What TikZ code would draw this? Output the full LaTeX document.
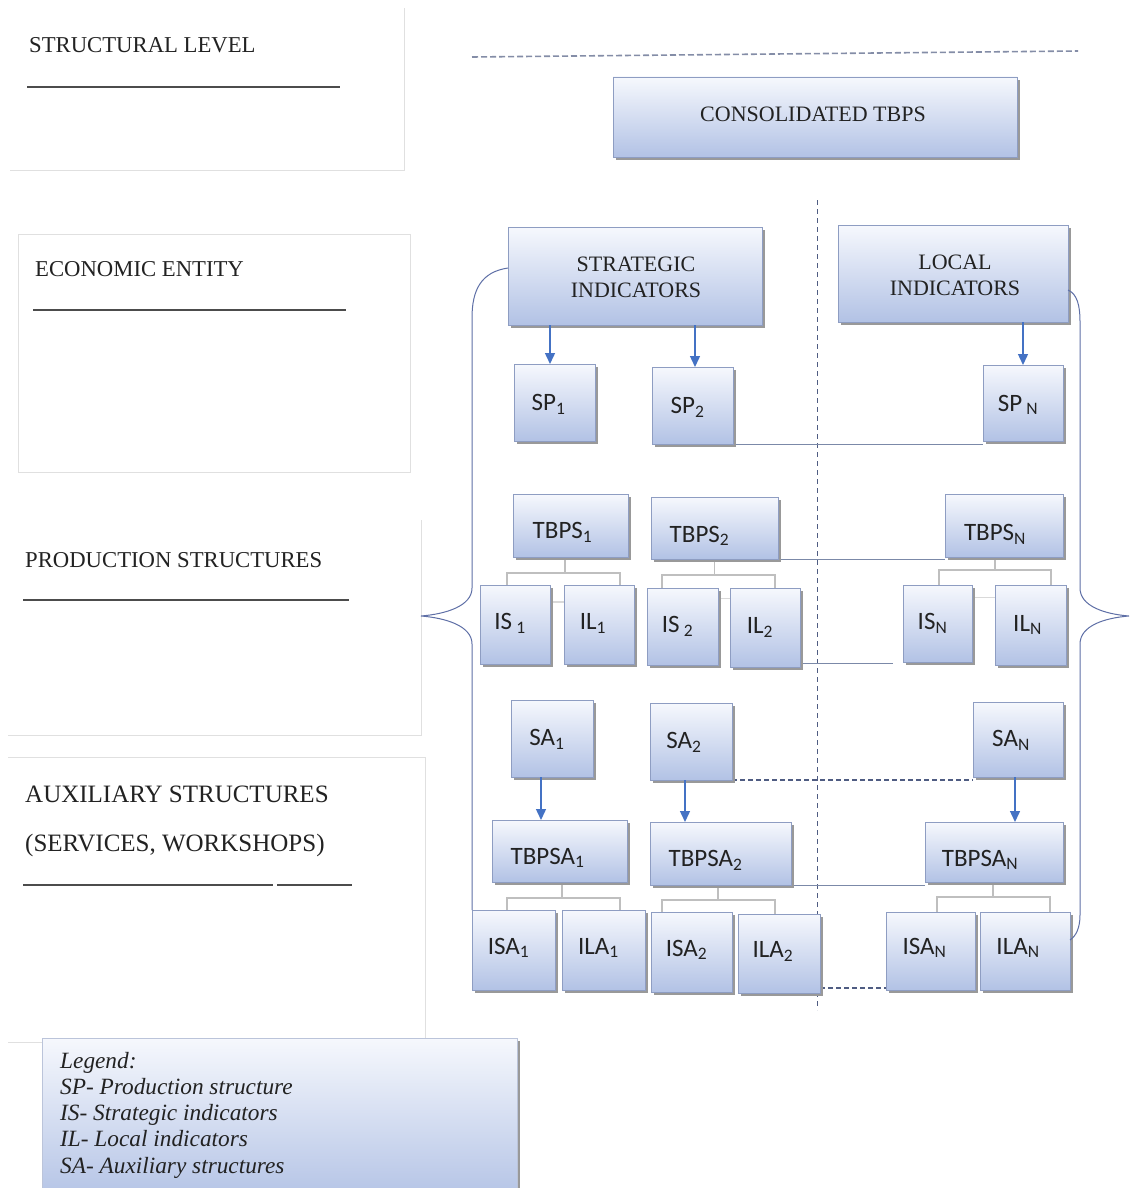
\documentclass[tikz,border=0pt]{standalone}
\usepackage{fontspec}
\setmainfont{Liberation Serif}
\newfontfamily\boxfont{Carlito}
\usetikzlibrary{arrows.meta,shadows}
\pgfdeclarelayer{bg}
\pgfsetlayers{bg,main}
\definecolor{bxtop}{HTML}{F6F8FD}
\definecolor{bxbot}{HTML}{B2C2E5}
\definecolor{bxdraw}{HTML}{8E9DC2}
\definecolor{arrblue}{HTML}{4472C4}
\definecolor{linec}{HTML}{7B89A8}
\definecolor{dlinec}{HTML}{4F5C82}
\definecolor{panel}{HTML}{E0E0E0}
\definecolor{bracec}{HTML}{5E6FA6}
\definecolor{txt}{HTML}{222222}
\tikzset{
 box/.style={draw=bxdraw, line width=0.8pt, top color=bxtop, bottom color=bxbot,
   inner sep=0pt, outer sep=0pt,
   drop shadow={shadow xshift=3pt, shadow yshift=-3pt, fill=black!40, opacity=1}},
 lblserif/.style={font=\fontsize{22}{26}\selectfont, align=center, inner sep=0pt, text=txt},
 lblsans/.style={font=\boxfont\fontsize{25}{28}\selectfont, inner sep=0pt, text=txt},
 lefttext/.style={font=\fontsize{22.7}{26}\selectfont, inner sep=0pt, anchor=base west, text=txt},
 auxtext/.style={font=\fontsize{25}{28}\selectfont, inner sep=0pt, anchor=base west, text=txt},
 legtext/.style={font=\itshape\fontsize{23.3}{26}\selectfont, inner sep=0pt, anchor=base west, text=txt},
 arr/.style={draw=arrblue, line width=1.4pt, -{Triangle[length=11pt,width=10pt]}},
 link/.style={draw=linec, line width=1pt},
 dlink/.style={draw=dlinec, line width=1.1pt, dash pattern=on 5pt off 3pt},
 tree/.style={draw=gray!50, line width=1.5pt},
 panelline/.style={draw=panel, line width=0.9pt},
 rulerline/.style={draw=black!70, line width=1.4pt},
 brace/.style={draw=bracec, line width=1pt},
 vdash/.style={draw=dlinec, line width=1pt, dash pattern=on 5pt off 4pt},
}
\newcommand\bx[9]{%
 \node[box, minimum width={(#4-(#2))*1pt}, minimum height={(#5-(#3))*1pt}] (#1) at ({(#2+#4)/2},{(#3+#5)/2}) {};
 \node[#8] (#1t) at ([xshift={(#6)*1pt}, yshift={-(#7)*1pt}]#1.center) {#9};
}
\newcommand\sub[1]{\textsubscript{#1}}
\begin{document}
\begin{tikzpicture}[x=1pt,y=-1pt]
\useasboundingbox (0,0) rectangle (1130,1188);
\begin{pgfonlayer}{bg}
\fill[white] (0,0) rectangle (1130,1188);
\end{pgfonlayer}

% ---------- left panel ----------
\draw[panelline] (10,170) -- (404,170) -- (404,8);
\draw[panelline] (18,234) rectangle (410,472);
\draw[panelline] (8,735) -- (421,735) -- (421,520);
\draw[panelline] (8,757) -- (425,757) -- (425,1040);
\draw[panelline] (8,1042) -- (44,1042);

\node[lefttext] (tsl) at (29,52.5) {STRUCTURAL LEVEL};
\draw[rulerline] (27,87) -- (340,87);
\node[lefttext] (tee) at (35,276.5) {ECONOMIC ENTITY};
\draw[rulerline] (33,310) -- (346,310);
\node[lefttext] (tps) at (25,567.5) {PRODUCTION STRUCTURES};
\draw[rulerline] (23,600) -- (349,600);
\node[auxtext] (tas) at (25,802) {AUXILIARY STRUCTURES};
\node[auxtext] (tsw) at (25,851) {(SERVICES, WORKSHOPS)};
\draw[rulerline] (23,885) -- (273,885);
\draw[rulerline] (277,885) -- (352,885);

% ---------- legend ----------
\node[box, draw=bxdraw!60, minimum width=475pt, minimum height=165pt, anchor=north west] (legend) at (42,1038) {};
\node[legtext] (lg0) at (60,1068) {Legend:};
\node[legtext] (lg1) at (60,1094) {SP- Production structure};
\node[legtext] (lg2) at (60,1120) {IS- Strategic indicators};
\node[legtext] (lg3) at (60,1146) {IL- Local indicators};
\node[legtext] (lg4) at (60,1173) {SA- Auxiliary structures};

% ---------- right diagram ----------
\bx{cons}{613}{77}{1017}{157}{-2}{-3}{lblserif}{CONSOLIDATED TBPS}
\bx{strat}{508}{227}{762}{325}{1}{1}{lblserif}{STRATEGIC\\INDICATORS}
\bx{local}{838}{225}{1068}{322}{2}{2}{lblserif}{LOCAL\\INDICATORS}

\bx{sp1}{514}{364}{595}{441}{-6}{2}{lblsans}{SP\sub{1}}
\bx{sp2}{652}{367}{733}{444}{-5}{2}{lblsans}{SP\sub{2}}
\bx{spn}{983}{365}{1063}{441}{-5}{2}{lblsans}{SP\,\sub{N}}

\bx{tbps1}{513}{494}{628}{557}{-8}{7}{lblsans}{TBPS\sub{1}}
\bx{tbps2}{651}{497}{778}{559}{-15}{8}{lblsans}{TBPS\sub{2}}
\bx{tbpsn}{945}{494}{1063}{557}{-9}{9}{lblsans}{TBPS\sub{N}}

\bx{is1}{480}{585}{550}{664}{-5}{-1}{lblsans}{IS\,\sub{1}}
\bx{il1}{564}{585}{634}{664}{-6}{-1}{lblsans}{IL\sub{1}}
\bx{is2}{647}{588}{718}{665}{-5}{0}{lblsans}{IS\,\sub{2}}
\bx{il2}{730}{588}{800}{667}{-5}{0}{lblsans}{IL\sub{2}}
\bx{isn}{903}{585}{972}{662}{-5}{0}{lblsans}{IS\sub{N}}
\bx{iln}{995}{585}{1066}{665}{-3}{0}{lblsans}{IL\sub{N}}

\bx{sa1}{511}{700}{593}{777}{-5}{1}{lblsans}{SA\sub{1}}
\bx{sa2}{650}{703}{732}{780}{-7}{1}{lblsans}{SA\sub{2}}
\bx{san}{973}{702}{1063}{777}{-7}{1}{lblsans}{SA\sub{N}}

\bx{tbpsa1}{492}{820}{627}{882}{-12}{7}{lblsans}{TBPSA\sub{1}}
\bx{tbpsa2}{650}{822}{791}{885}{-15}{7}{lblsans}{TBPSA\sub{2}}
\bx{tbpsan}{925}{822}{1063}{882}{-14}{8}{lblsans}{TBPSA\sub{N}}

\bx{isa1}{472}{910}{555}{990}{-5}{-2}{lblsans}{ISA\sub{1}}
\bx{ila1}{562}{910}{645}{990}{-5}{-2}{lblsans}{ILA\sub{1}}
\bx{isa2}{651}{912}{732}{992}{-5}{-2}{lblsans}{ISA\sub{2}}
\bx{ila2}{738}{914}{820}{993}{-6}{-2}{lblsans}{ILA\sub{2}}
\bx{isan}{886}{912}{975}{990}{-6}{-3}{lblsans}{ISA\sub{N}}
\bx{ilan}{980}{912}{1070}{990}{-7}{-3}{lblsans}{ILA\sub{N}}

% arrows
\draw[arr] ([xshift=-4.5pt]strat.south -| sp1) -- ([xshift=-4.5pt]sp1.north);
\draw[arr] ([xshift=2.5pt]strat.south -| sp2) -- ([xshift=2.5pt]sp2.north);
\draw[arr] (local.south -| spn) -- (spn.north);
\draw[arr] ([xshift=-11pt]sa1.south) -- ([xshift=-11pt]sa1.south |- tbpsa1.north);
\draw[arr] ([xshift=-6pt]sa2.south) -- ([xshift=-6pt]sa2.south |- tbpsa2.north);
\draw[arr] ([xshift=-3pt]san.south) -- ([xshift=-3pt]san.south |- tbpsan.north);

% background: links, trees, dashed lines
\coordinate (vt) at (817,200);
\coordinate (vb) at (817,1010);
\coordinate (dl) at (472,57);
\coordinate (dr) at (1078,51);
\coordinate (c1) at (893,663);
\begin{pgfonlayer}{bg}
\draw[vdash] (vt) -- (vb);
\draw[vdash, line width=1.6pt, draw=dlinec!70, dash pattern=on 6pt off 3pt] (dl) -- (dr);
\draw[link] (sp2.south east) -- (sp2.south east -| spn.west);
\draw[link] (tbps2.south east) -- (tbps2.south east -| tbpsn.west);
\draw[link] ([yshift=4pt]il2.south east) -- (c1);
\draw[dlink] (sa2.south east) -- (sa2.south east -| san.west);
\draw[link] (tbpsa2.south east) -- (tbpsa2.south east -| tbpsan.west);
\draw[dlink] ([yshift=5pt]ila2.south east) -- ([yshift=5pt]ila2.south east -| isan.west);
% trees
\draw[tree] ([xshift=-5.5pt]tbps1.south) -- ++(0,16) -| ([xshift=-8pt]is1.north);
\draw[tree] ([xshift=-5.5pt]tbps1.south) -- ++(0,16) -| ([xshift=21pt]il1.north);
\draw[tree] (tbps2.south) -- ++(0,16) -| ([xshift=-20.5pt]is2.north);
\draw[tree] (tbps2.south) -- ++(0,16) -| ([xshift=10pt]il2.north);
\draw[tree] ([xshift=-9pt]tbpsn.south) -- ++(0,13) -| ([xshift=1.5pt]isn.north);
\draw[tree] ([xshift=-9pt]tbpsn.south) -- ++(0,13) -| ([xshift=20.5pt]iln.north);
\draw[tree] ([xshift=2.5pt]tbpsa1.south) -- ++(0,16) -| ([xshift=-6.5pt]isa1.north);
\draw[tree] ([xshift=2.5pt]tbpsa1.south) -- ++(0,16) -| ([xshift=16.5pt]ila1.north);
\draw[tree] ([xshift=-2.5pt]tbpsa2.south) -- ++(0,15) -| ([xshift=-29.5pt]isa2.north);
\draw[tree] ([xshift=-2.5pt]tbpsa2.south) -- ++(0,15) -| ([xshift=-4pt]ila2.north);
\draw[tree] ([xshift=-1pt]tbpsan.south) -- ++(0,15) -| ([xshift=6.5pt]isan.north);
\draw[tree] ([xshift=-1pt]tbpsan.south) -- ++(0,15) -| ([xshift=25pt]ilan.north);
\draw[tree, draw=gray!30] ([yshift=22.5pt]is1.east) -- ([yshift=22.5pt]is1.east -| il1.west);
\draw[tree, draw=gray!30] ([yshift=28pt]is2.east) -- ([yshift=28pt]is2.east -| il2.west);
\draw[tree, draw=gray!30] ([yshift=26pt]isn.east) -- ([yshift=26pt]isn.east -| iln.west);
\end{pgfonlayer}

% braces
\draw[brace] (508,268) .. controls (481,272) and (472,290) .. (472,318)
  -- (472,588) .. controls (472,606) and (446,614) .. (421,616)
  .. controls (446,618) and (472,626) .. (472,644) -- (472,910);
\draw[brace] (1068,290) .. controls (1077,294) and (1080,305) .. (1080,322)
  -- (1080,588) .. controls (1080,606) and (1104,614) .. (1129,616)
  .. controls (1104,618) and (1080,626) .. (1080,644) -- (1080,915)
  .. controls (1080,928) and (1076,936) .. (1070,940);
\end{tikzpicture}
\end{document}
